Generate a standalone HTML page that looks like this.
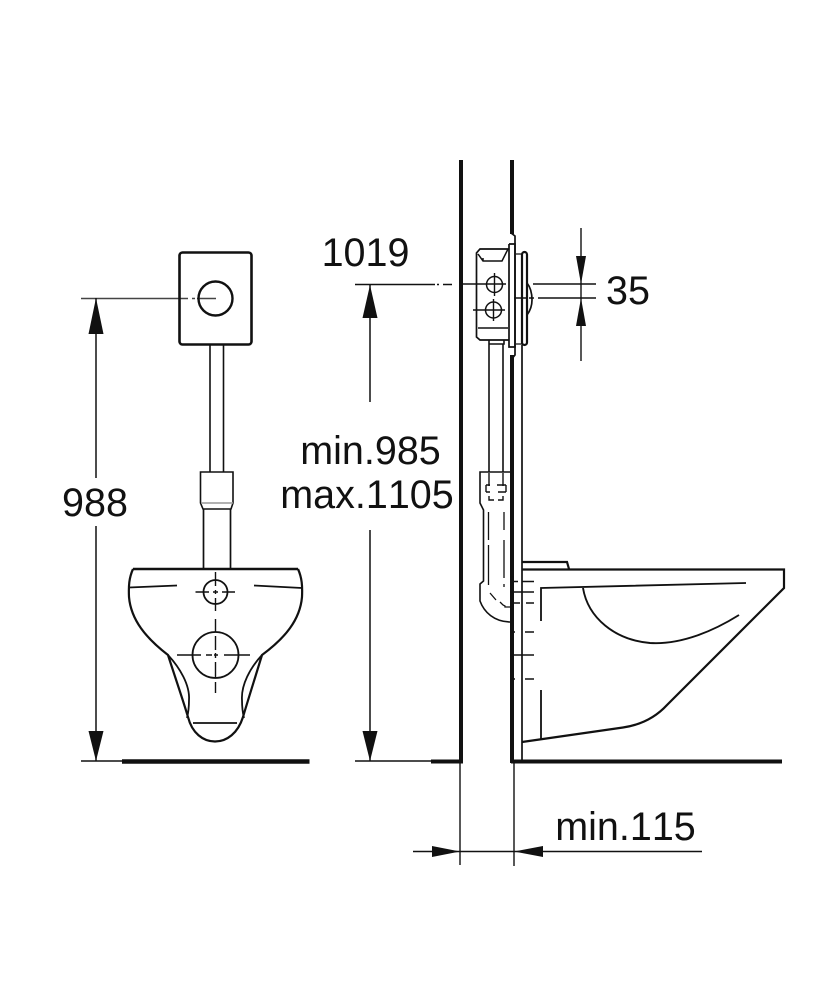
<!DOCTYPE html>
<html><head><meta charset="utf-8"><style>
html,body{margin:0;padding:0;background:#fff}
svg{display:block}
text{font-family:"Liberation Sans",sans-serif;font-size:39.5px;font-kerning:none;fill:#111;text-anchor:middle}
</style></head><body>
<svg width="833" height="1000" viewBox="0 0 833 1000" xmlns="http://www.w3.org/2000/svg">
<rect width="833" height="1000" fill="#fff"/>
<g fill="none" stroke="#111" stroke-width="1.5">
<!-- left view: dimension -->
<path d="M81 298.500H188M192 298.500H195M197 298.500H216" stroke="#444" stroke-width="1.600"/>
<path d="M96 298V478M96 526V761M81 761H122"/>
<!-- flush plate -->
<rect x="179.500" y="252.500" width="72" height="92" rx="3" stroke-width="2.600"/>
<circle cx="215.500" cy="298.500" r="17" stroke-width="2.400"/>
<!-- pipe -->
<path d="M210 345V472M223.500 345V472" stroke-width="1.600"/>
<path d="M204 472H233V503L231 509H203L200.500 503V472H204" stroke-width="1.600"/>
<path d="M201 503H233" stroke="#999"/>
<path d="M203.500 509V569M230.500 509V569" stroke-width="1.700"/>
<!-- bowl front -->
<path d="M133 569H298" stroke-width="2.600"/>
<path d="M133 569C129 578 128.500 586 129 597C131 620 146 638 168 655C176 680 183 700 188 717C192 733 203 741.500 215 741.500C227 741.500 238 733 243 717C248 700 255 678 262 655C285 638 300 620 302 597C302.500 586 302 578 298 569" stroke-width="2.200"/>
<path d="M168 655C180 668 190 685 189 700C189 708 188 714 187 718" stroke-width="1.800"/>
<path d="M262 655C250 668 241 685 242 700C242 708 243 714 244 718" stroke-width="1.800"/>
<path d="M129 587.500L177 585.500M254 585.500L302 588M193 723H237" stroke-width="1.800"/>
<circle cx="215.500" cy="592" r="12" stroke-width="1.800"/>
<circle cx="215.500" cy="655" r="23" stroke-width="1.800"/>
<path d="M195.500 592H209M213 592H218M222 592H235M215.500 572V586M215.500 590V594M215.500 598V611M215.500 619V632M215.500 636V650M215.500 653V658M215.500 662V678M215.500 682V693M177 655H201M206 655H212M214 655H218M224 655H250" stroke-width="1.400"/>
<!-- middle dimension -->
<path d="M355 284.500H435M437 284.500H439M443 284.500H452M370 285V402M370 530V761M355 761H431"/>
<!-- walls -->
<path d="M461 160V763M431 761.500H463" stroke-width="4"/>
<path d="M512 160V234M512 355V763M511 761.500H782" stroke-width="4"/>
<path d="M122 761.500H309.500" stroke-width="4.500"/>
<!-- right: housing -->
<path d="M508.500 249H480L476.500 253V337L480 340H508.500" stroke-width="1.700"/>
<path d="M478 254L483 261H502L508 249M483 261V258M478 328H508" stroke-width="1.500"/>
<path d="M509 244H515V347H509V244" stroke-width="1.700" fill="#fff"/>
<path d="M511 233L515 236V355L511 360" stroke-width="1.700"/>
<path d="M516 254H522V344H516" stroke-width="1.300"/>
<rect x="522" y="252" width="5" height="93" rx="2.500" stroke-width="2.200"/>
<path d="M527 283C531 288 532 295 532 300C532 306 530 311 527 315" stroke-width="1.700"/>
<circle cx="494.500" cy="284.500" r="8" stroke-width="1.500"/>
<circle cx="493.500" cy="310" r="8" stroke-width="1.500"/>
<path d="M463 284H506M494.500 273V296M473 310H505M493.500 299V321M514 298H527M529 298H534" stroke-width="1.400"/>
<path d="M533 284H596M538 298H596M581 228V361" stroke-width="1.400"/>
<path d="M489 340V344H504V340M489 344V472M503 344V472" stroke-width="1.600"/>
<path d="M522 345V761" stroke-width="1.700"/>
<!-- coupling -->
<path d="M510 472H480V503L483.500 510V581L480 584V601C484 612 494 622 511 622" stroke-width="1.600"/>
<path d="M489 473V486M503 473V486M486 485H490M497 485H506M486 485V492M506 485V492M486 492H490M498 492H506M489 496V500H494M498 500H503V496" stroke-width="1.400"/>
<path d="M488.500 512V540M488.500 545V585M504 512V530M504 540V578M504 584V587M490 593L496 600M500 602L503 605L505 606V607H511" stroke-width="1.300"/>
<!-- toilet side -->
<path d="M522 562H567L569 569" stroke-width="2.200"/>
<path d="M522 569.500H784V588L667 705C655 718 640 725 623 727.500L522 742" stroke-width="2.200"/>
<path d="M541 621V588L746 583M541 690V739" stroke-width="1.800"/>
<path d="M583 588C588 618 615 640 650 643C682 645 715 630 739 615" stroke-width="1.900"/>
<path d="M510 577H514M513 581.500H518M522 581.500H534M510 592H534M513 603H520M526 603H534M510 632H515M525 632H534M510 655H534M510 679H515M525 679H534" stroke-width="1.500"/>
<!-- 115 dimension -->
<path d="M460 763V865M514 763V866M413 851.500H702" stroke-width="1.400"/>
</g>
<g fill="#111" stroke="none">
<path d="M96 298L88.500 334H103.500Z"/>
<path d="M96 761L88.500 731H103.500Z"/>
<path d="M370 285L362.500 318H377.500Z"/>
<path d="M370 761L362.500 731H377.500Z"/>
<path d="M581 284L576 256H586Z"/>
<path d="M581 298L576 326H586Z"/>
<path d="M460 851.500L432 846V857Z"/>
<path d="M514 851.500L543 846V857Z"/>
</g>
<text x="95" y="516">988</text>
<text x="365.500" y="266">1019</text>
<text x="370.500" y="464">min.985</text>
<text x="367" y="508">max.1105</text>
<text x="628" y="304">35</text>
<text x="625.500" y="840">min.115</text>
</svg>
</body></html>
